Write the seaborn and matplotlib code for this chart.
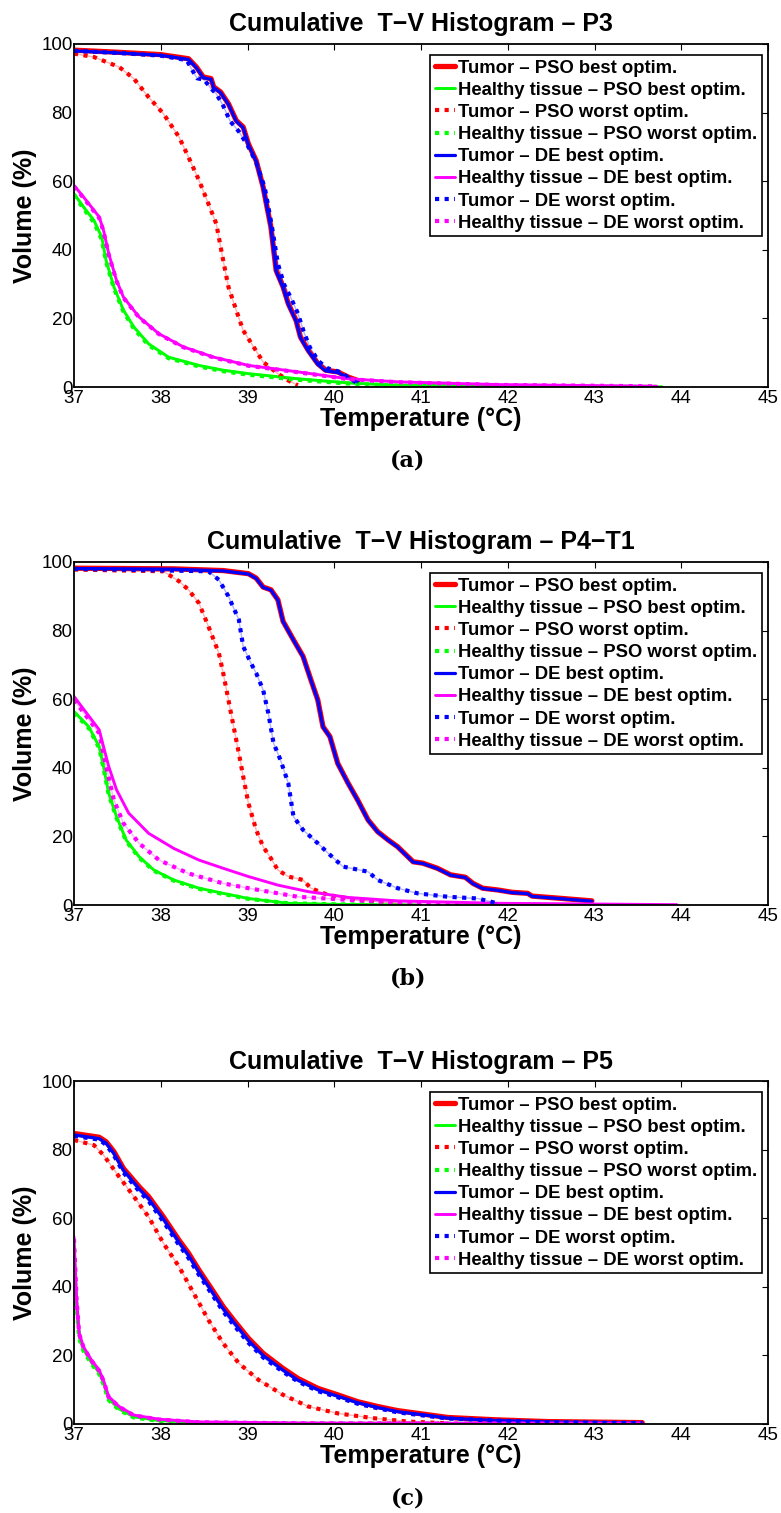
import matplotlib
matplotlib.use("Agg")
import matplotlib.pyplot as plt
import seaborn as sns

# ---------------- data ----------------
TITLES = ["Cumulative  T\u2212V Histogram \u2013 P3",
          "Cumulative  T\u2212V Histogram \u2013 P4\u2212T1",
          "Cumulative  T\u2212V Histogram \u2013 P5"]
SUBCAPTIONS = ["(a)", "(b)", "(c)"]
LABELS = ["Tumor \u2013 PSO best optim.",
          "Healthy tissue \u2013 PSO best optim.",
          "Tumor \u2013 PSO worst optim.",
          "Healthy tissue \u2013 PSO worst optim.",
          "Tumor \u2013 DE best optim.",
          "Healthy tissue \u2013 DE best optim.",
          "Tumor \u2013 DE worst optim.",
          "Healthy tissue \u2013 DE worst optim."]
X_TICKS = [37, 38, 39, 40, 41, 42, 43, 44, 45]
Y_TICKS = [0, 20, 40, 60, 80, 100]

# ---- P3 ----
P3_TUM_PSO_BEST_T = [37.0, 37.5, 38.0, 38.32, 38.41, 38.49, 38.58, 38.61, 38.69, 38.78, 38.87, 38.95, 39.01, 39.10, 39.18, 39.27, 39.33, 39.41, 39.47, 39.56, 39.61, 39.70, 39.81, 39.90, 40.04, 40.16, 40.27]
P3_TUM_PSO_BEST_V = [98.2, 97.6, 96.9, 95.7, 93.3, 90.4, 89.9, 87.5, 86.0, 82.6, 77.7, 75.8, 70.9, 66.0, 58.3, 46.6, 34.0, 29.2, 24.3, 19.4, 14.6, 10.7, 6.8, 4.9, 4.4, 2.9, 1.9]
P3_HEA_PSO_BEST_T = [37.0, 37.11, 37.23, 37.32, 37.37, 37.46, 37.57, 37.69, 37.86, 38.09, 38.44, 38.72, 39.01, 39.58, 40.16, 40.73, 41.5, 42.5, 43.78]
P3_HEA_PSO_BEST_V = [56.4, 52.5, 48.6, 43.7, 36.9, 29.2, 22.4, 17.5, 12.6, 8.7, 6.3, 4.9, 3.9, 2.4, 1.2, 0.5, 0.3, 0.15, 0.05]
P3_TUM_PSO_WORST_T = [37.0, 37.23, 37.52, 37.69, 37.86, 38.03, 38.21, 38.32, 38.44, 38.55, 38.64, 38.72, 38.78, 38.87, 38.95, 39.07, 39.18, 39.35, 39.47, 39.58]
P3_TUM_PSO_WORST_V = [97.2, 96.2, 93.3, 89.9, 84.5, 79.7, 72.9, 67.0, 60.3, 53.4, 47.6, 36.9, 29.2, 22.4, 16.5, 11.7, 7.3, 3.9, 1.9, 0.5]
P3_HEA_PSO_WORST_T = [37.0, 37.11, 37.23, 37.32, 37.37, 37.46, 37.57, 37.69, 37.86, 38.09, 38.44, 38.72, 39.01, 39.58, 40.16, 40.73, 41.5, 42.5, 43.78]
P3_HEA_PSO_WORST_V = [56.0, 52.0, 48.0, 43.0, 36.5, 28.8, 22.0, 17.0, 12.2, 8.4, 6.0, 4.6, 3.6, 2.1, 1.0, 0.4, 0.2, 0.1, 0.05]
P3_TUM_DE_BEST_T = [37.0, 37.5, 38.0, 38.32, 38.41, 38.49, 38.58, 38.61, 38.69, 38.78, 38.87, 38.95, 39.01, 39.10, 39.18, 39.27, 39.33, 39.41, 39.47, 39.56, 39.61, 39.70, 39.81, 39.90, 40.04, 40.16, 40.27]
P3_TUM_DE_BEST_V = [98.0, 97.4, 96.7, 95.5, 93.1, 90.2, 89.7, 87.3, 85.8, 82.4, 77.5, 75.6, 70.7, 65.8, 58.1, 46.4, 33.8, 29.0, 24.1, 19.2, 14.4, 10.5, 6.6, 4.7, 4.2, 2.7, 1.7]
P3_HEA_DE_BEST_T = [37.0, 37.11, 37.29, 37.34, 37.40, 37.49, 37.57, 37.75, 37.98, 38.26, 38.61, 39.01, 39.58, 40.16, 40.73, 41.88, 43.72]
P3_HEA_DE_BEST_V = [58.8, 55.4, 49.6, 45.7, 38.9, 31.1, 26.2, 20.4, 15.5, 11.7, 8.7, 6.3, 4.4, 2.4, 1.5, 0.7, 0.2]
P3_TUM_DE_WORST_T = [37.0, 37.5, 38.0, 38.30, 38.36, 38.42, 38.50, 38.58, 38.64, 38.72, 38.80, 38.90, 39.00, 39.10, 39.20, 39.28, 39.35, 39.42, 39.50, 39.58, 39.65, 39.72, 39.82, 39.92, 40.05, 40.15, 40.27]
P3_TUM_DE_WORST_V = [98.0, 97.4, 96.6, 95.3, 92.5, 90.0, 89.6, 87.0, 85.5, 82.0, 77.5, 74.5, 70.5, 65.5, 58.0, 47.0, 36.0, 30.0, 26.0, 21.5, 16.0, 11.5, 7.5, 5.5, 4.5, 3.0, 1.0]
P3_HEA_DE_WORST_T = [37.0, 37.11, 37.29, 37.34, 37.40, 37.49, 37.57, 37.75, 37.98, 38.26, 38.61, 39.01, 39.58, 40.16, 40.73, 41.88, 43.72]
P3_HEA_DE_WORST_V = [58.5, 55.1, 49.3, 45.4, 38.6, 30.9, 26.0, 20.3, 15.4, 11.6, 8.6, 6.2, 4.3, 2.3, 1.4, 0.6, 0.2]

# ---- P4-T1 ----
P4_TUM_PSO_BEST_T = [37.0, 38.15, 38.72, 39.01, 39.10, 39.18, 39.27, 39.35, 39.41, 39.53, 39.64, 39.73, 39.81, 39.87, 39.95, 40.04, 40.16, 40.27, 40.39, 40.50, 40.62, 40.73, 40.91, 41.02, 41.19, 41.34, 41.51, 41.60, 41.71, 41.88, 42.05, 42.23, 42.28, 42.63, 42.97]
P4_TUM_PSO_BEST_V = [98.2, 98.0, 97.5, 96.6, 95.3, 92.7, 91.9, 89.0, 82.7, 77.3, 72.5, 65.7, 59.8, 52.0, 49.1, 41.3, 35.5, 30.6, 24.8, 21.4, 19.0, 17.0, 12.6, 12.2, 10.7, 8.8, 8.1, 6.3, 4.9, 4.4, 3.7, 3.4, 2.6, 1.9, 1.2]
P4_HEA_PSO_BEST_T = [37.0, 37.17, 37.29, 37.34, 37.40, 37.49, 37.60, 37.75, 37.92, 38.15, 38.44, 38.72, 39.01, 39.47, 40.0, 41.0]
P4_HEA_PSO_BEST_V = [56.4, 52.0, 46.2, 40.4, 32.6, 25.8, 19.0, 14.1, 10.2, 7.3, 4.9, 3.4, 1.9, 0.5, 0.2, 0.0]
P4_TUM_PSO_WORST_T = [37.0, 38.03, 38.21, 38.32, 38.44, 38.55, 38.67, 38.72, 38.78, 38.84, 38.90, 38.95, 39.01, 39.10, 39.18, 39.27, 39.35, 39.47, 39.64, 39.73, 39.93, 40.27, 40.73]
P4_TUM_PSO_WORST_V = [97.8, 97.3, 94.4, 91.9, 88.0, 81.2, 73.4, 67.6, 59.8, 52.0, 44.3, 37.5, 29.7, 21.9, 17.0, 13.6, 10.2, 8.3, 7.3, 4.9, 2.9, 1.5, 0.5]
P4_HEA_PSO_WORST_T = [37.0, 37.17, 37.29, 37.34, 37.40, 37.49, 37.60, 37.75, 37.92, 38.15, 38.44, 38.72, 39.01, 39.47, 40.0, 41.0]
P4_HEA_PSO_WORST_V = [56.0, 51.6, 45.8, 40.0, 32.2, 25.4, 18.7, 13.8, 10.0, 7.1, 4.7, 3.2, 1.8, 0.5, 0.2, 0.0]
P4_TUM_DE_BEST_T = [37.0, 38.15, 38.72, 39.01, 39.10, 39.18, 39.27, 39.35, 39.41, 39.53, 39.64, 39.73, 39.81, 39.87, 39.95, 40.04, 40.16, 40.27, 40.39, 40.50, 40.62, 40.73, 40.91, 41.02, 41.19, 41.34, 41.51, 41.60, 41.71, 41.88, 42.05, 42.23, 42.28, 42.63, 42.97]
P4_TUM_DE_BEST_V = [98.1, 97.9, 97.4, 96.5, 95.2, 92.6, 91.8, 88.9, 82.6, 77.2, 72.4, 65.6, 59.7, 51.9, 49.0, 41.2, 35.4, 30.5, 24.7, 21.3, 18.9, 16.9, 12.5, 12.1, 10.6, 8.7, 8.0, 6.2, 4.8, 4.3, 3.6, 3.3, 2.5, 1.8, 1.1]
P4_HEA_DE_BEST_T = [37.0, 37.29, 37.34, 37.40, 37.49, 37.63, 37.86, 38.15, 38.44, 38.72, 39.01, 39.35, 39.70, 40.16, 40.73, 41.88, 43.95]
P4_HEA_DE_BEST_V = [60.8, 51.1, 46.2, 40.4, 33.6, 26.8, 20.9, 16.5, 13.1, 10.7, 8.3, 5.8, 3.9, 2.2, 1.2, 0.5, 0.1]
P4_TUM_DE_WORST_T = [37.0, 38.55, 38.67, 38.78, 38.90, 38.95, 39.04, 39.10, 39.18, 39.24, 39.30, 39.38, 39.47, 39.53, 39.64, 39.81, 39.93, 40.10, 40.39, 40.50, 40.73, 40.96, 41.31, 41.65, 41.88]
P4_TUM_DE_WORST_V = [98.0, 97.3, 94.8, 90.0, 83.2, 75.4, 70.5, 67.6, 62.7, 55.9, 47.2, 42.3, 35.5, 25.8, 21.9, 18.0, 15.1, 11.2, 9.7, 7.3, 4.9, 3.4, 2.4, 1.9, 0.5]
P4_HEA_DE_WORST_T = [37.0, 37.29, 37.37, 37.46, 37.57, 37.75, 37.98, 38.32, 38.72, 39.01, 39.58, 40.16, 40.73, 41.5]
P4_HEA_DE_WORST_V = [59.8, 50.1, 40.4, 30.6, 23.8, 18.0, 13.1, 9.2, 6.3, 4.9, 2.4, 1.5, 0.7, 0.2]

# ---- P5 ----
P5_TUM_PSO_BEST_T = [37.0, 37.29, 37.37, 37.46, 37.57, 37.75, 37.86, 38.03, 38.21, 38.32, 38.44, 38.58, 38.72, 38.84, 39.01, 39.18, 39.41, 39.58, 39.81, 40.04, 40.27, 40.50, 40.73, 41.02, 41.31, 41.88, 42.46, 43.55]
P5_TUM_PSO_BEST_V = [84.7, 83.6, 82.3, 79.4, 74.5, 69.2, 66.3, 60.4, 53.6, 49.8, 44.9, 39.6, 34.2, 30.3, 25.0, 20.6, 16.2, 13.3, 10.4, 8.5, 6.5, 5.1, 3.9, 2.9, 1.9, 1.2, 0.7, 0.4]
P5_HEA_PSO_BEST_T = [37.0, 37.03, 37.06, 37.11, 37.20, 37.29, 37.34, 37.40, 37.52, 37.69, 37.98, 38.44, 39.58, 43.55]
P5_HEA_PSO_BEST_V = [48.0, 34.5, 25.5, 21.8, 18.0, 15.0, 12.0, 7.3, 4.4, 2.1, 1.0, 0.4, 0.2, 0.05]
P5_TUM_PSO_WORST_T = [37.0, 37.23, 37.34, 37.52, 37.69, 37.86, 38.03, 38.21, 38.38, 38.55, 38.72, 38.90, 39.13, 39.41, 39.70, 40.04, 40.45, 40.85, 41.31]
P5_TUM_PSO_WORST_V = [82.8, 81.3, 78.4, 72.1, 66.3, 60.4, 52.7, 45.9, 38.1, 30.3, 23.5, 17.7, 12.8, 8.5, 5.1, 3.1, 1.7, 0.7, 0.2]
P5_HEA_PSO_WORST_T = [37.0, 37.03, 37.06, 37.11, 37.20, 37.29, 37.34, 37.40, 37.52, 37.69, 37.98, 38.44, 39.58, 43.55]
P5_HEA_PSO_WORST_V = [47.0, 34.0, 25.0, 21.3, 17.6, 14.6, 11.6, 7.0, 4.1, 1.9, 0.9, 0.3, 0.1, 0.05]
P5_TUM_DE_BEST_T = [37.0, 37.29, 37.37, 37.46, 37.57, 37.75, 37.86, 38.03, 38.21, 38.32, 38.44, 38.58, 38.72, 38.84, 39.01, 39.18, 39.41, 39.58, 39.81, 40.04, 40.27, 40.50, 40.73, 41.02, 41.31, 41.88, 42.46, 43.55]
P5_TUM_DE_BEST_V = [84.3, 83.2, 81.9, 78.9, 74.0, 68.6, 65.7, 59.8, 53.0, 49.2, 44.3, 39.0, 33.6, 29.7, 24.4, 20.0, 15.7, 12.8, 10.0, 8.1, 6.2, 4.8, 3.6, 2.7, 1.7, 1.0, 0.6, 0.3]
P5_HEA_DE_BEST_T = [37.0, 37.03, 37.06, 37.11, 37.20, 37.29, 37.34, 37.40, 37.52, 37.69, 37.98, 38.44, 39.58, 43.55]
P5_HEA_DE_BEST_V = [54.6, 36.2, 26.4, 22.5, 18.7, 15.7, 12.8, 8.0, 5.1, 2.6, 1.4, 0.6, 0.3, 0.1]
P5_TUM_DE_WORST_T = [37.0, 37.29, 37.37, 37.46, 37.57, 37.75, 37.86, 38.03, 38.21, 38.32, 38.44, 38.58, 38.72, 38.84, 39.01, 39.18, 39.41, 39.58, 39.81, 40.04, 40.27, 40.50, 40.73, 41.02, 41.31, 41.88, 42.46, 43.55]
P5_TUM_DE_WORST_V = [84.0, 82.9, 81.4, 78.3, 73.3, 67.9, 65.0, 59.0, 52.2, 48.4, 43.5, 38.2, 32.8, 28.9, 23.7, 19.4, 15.2, 12.4, 9.6, 7.8, 5.9, 4.6, 3.4, 2.5, 1.6, 1.0, 0.5, 0.3]
P5_HEA_DE_WORST_T = [37.0, 37.03, 37.06, 37.11, 37.20, 37.29, 37.34, 37.40, 37.52, 37.69, 37.98, 38.44, 39.58, 43.55]
P5_HEA_DE_WORST_V = [54.0, 36.0, 26.2, 22.3, 18.5, 15.5, 12.6, 7.8, 5.0, 2.5, 1.3, 0.5, 0.2, 0.1]

PANELS = [
    [(P3_TUM_PSO_BEST_T, P3_TUM_PSO_BEST_V), (P3_HEA_PSO_BEST_T, P3_HEA_PSO_BEST_V),
     (P3_TUM_PSO_WORST_T, P3_TUM_PSO_WORST_V), (P3_HEA_PSO_WORST_T, P3_HEA_PSO_WORST_V),
     (P3_TUM_DE_BEST_T, P3_TUM_DE_BEST_V), (P3_HEA_DE_BEST_T, P3_HEA_DE_BEST_V),
     (P3_TUM_DE_WORST_T, P3_TUM_DE_WORST_V), (P3_HEA_DE_WORST_T, P3_HEA_DE_WORST_V)],
    [(P4_TUM_PSO_BEST_T, P4_TUM_PSO_BEST_V), (P4_HEA_PSO_BEST_T, P4_HEA_PSO_BEST_V),
     (P4_TUM_PSO_WORST_T, P4_TUM_PSO_WORST_V), (P4_HEA_PSO_WORST_T, P4_HEA_PSO_WORST_V),
     (P4_TUM_DE_BEST_T, P4_TUM_DE_BEST_V), (P4_HEA_DE_BEST_T, P4_HEA_DE_BEST_V),
     (P4_TUM_DE_WORST_T, P4_TUM_DE_WORST_V), (P4_HEA_DE_WORST_T, P4_HEA_DE_WORST_V)],
    [(P5_TUM_PSO_BEST_T, P5_TUM_PSO_BEST_V), (P5_HEA_PSO_BEST_T, P5_HEA_PSO_BEST_V),
     (P5_TUM_PSO_WORST_T, P5_TUM_PSO_WORST_V), (P5_HEA_PSO_WORST_T, P5_HEA_PSO_WORST_V),
     (P5_TUM_DE_BEST_T, P5_TUM_DE_BEST_V), (P5_HEA_DE_BEST_T, P5_HEA_DE_BEST_V),
     (P5_TUM_DE_WORST_T, P5_TUM_DE_WORST_V), (P5_HEA_DE_WORST_T, P5_HEA_DE_WORST_V)],
]

# ---------------- style ----------------
COLORS = ["#ff0000", "#00ff00", "#ff0000", "#00ff00", "#0000ff", "#ff00ff", "#0000ff", "#ff00ff"]
DOT = (0, (1.0, 1.3))
STYLES = ["-", "-", DOT, DOT, "-", "-", DOT, DOT]
WIDTHS = [3.8, 2.1, 3.0, 3.0, 2.3, 2.1, 3.0, 3.0]

sns.set_style("white")
plt.rcParams["font.family"] = ["Liberation Sans", "DejaVu Sans"]
plt.rcParams["text.color"] = "black"
plt.rcParams["axes.labelcolor"] = "black"
plt.rcParams["axes.titlecolor"] = "black"
plt.rcParams["axes.linewidth"] = 1.3
plt.rcParams["xtick.direction"] = "in"
plt.rcParams["ytick.direction"] = "in"

W, H = 781, 1513
fig = plt.figure(figsize=(W / 100, H / 100), dpi=100)
ax_left, ax_right = 74, 768
tops = [44, 562, 1081]
bottoms = [387, 905, 1424]

for i in range(3):
    ax = fig.add_axes([ax_left / W, 1 - bottoms[i] / H, (ax_right - ax_left) / W, (bottoms[i] - tops[i]) / H])
    for j, (t, v) in enumerate(PANELS[i]):
        if STYLES[j] != "-":
            # faint connecting trace seen between the dots in the reference
            sns.lineplot(x=t, y=v, ax=ax, color=COLORS[j], linestyle="-", linewidth=1.0, alpha=0.3,
                         sort=False, estimator=None, legend=False)
        sns.lineplot(x=t, y=v, ax=ax, color=COLORS[j], linestyle=STYLES[j], linewidth=WIDTHS[j],
                     label=LABELS[j], sort=False, estimator=None)
    ax.set_xlim(37, 45)
    ax.set_ylim(0, 100)
    ax.set_xticks(X_TICKS)
    ax.set_yticks(Y_TICKS)
    ax.tick_params(axis="both", which="both", direction="in", length=4.5, width=0.8,
                   top=True, right=True, labelsize=13.5, colors="black", pad=2)
    ax.tick_params(axis="y", pad=1)
    for s in ax.spines.values():
        s.set_color("black")
        s.set_visible(True)
    ax.set_title(TITLES[i], fontsize=18, fontweight="bold", pad=9, color="black")
    ax.set_xlabel("Temperature (\u00b0C)", fontsize=18, fontweight="bold", labelpad=0, color="black")
    ax.set_ylabel("Volume (%)", fontsize=18, fontweight="bold", labelpad=3, color="black")
    handles, labels = ax.get_legend_handles_labels()
    leg = ax.legend(handles, labels, loc="upper right", bbox_to_anchor=(0.991, 0.968), borderaxespad=0,
                    prop={"weight": "bold", "size": 13.3}, handlelength=1.1, handletextpad=0.15,
                    borderpad=0.25, labelspacing=0.28, fancybox=False, framealpha=1, edgecolor="black")
    leg.get_frame().set_linewidth(1.2)
    for txt in leg.get_texts():
        txt.set_color("black")
    fig.text(408 / W, 1 - (bottoms[i] + 74) / H, SUBCAPTIONS[i], ha="center", va="center",
             fontsize=16, fontweight="bold", family=["DejaVu Serif"], color="black")

fig.savefig("out.png", dpi=100, facecolor="white")
